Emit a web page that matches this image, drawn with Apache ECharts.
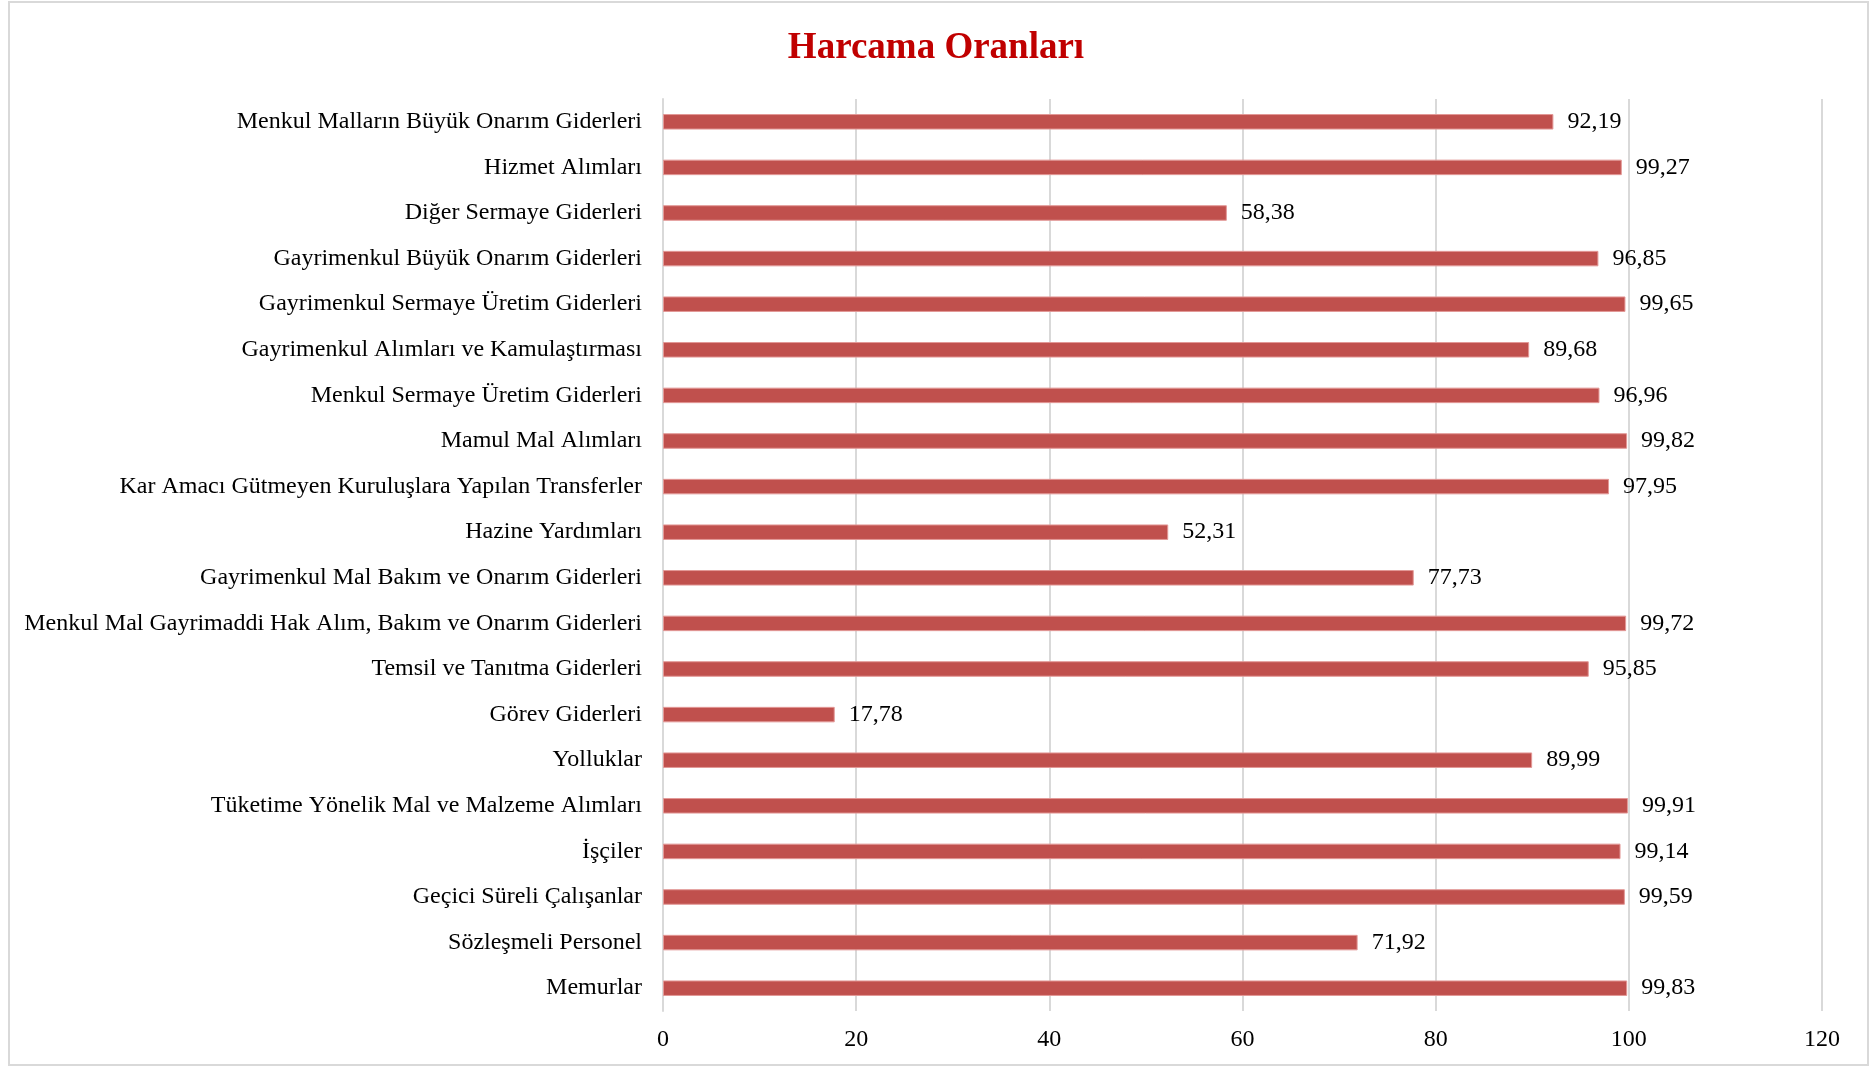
<!DOCTYPE html>
<html>
<head>
<meta charset="utf-8">
<script src="https://cdn.jsdelivr.net/npm/echarts@6/dist/echarts.min.js"></script>
<style>
  html, body { margin: 0; padding: 0; background: #fff; }
  #chart { width: 1872px; height: 1068px; }
</style>
</head>
<body>
<div id="chart"></div>
<script>
// categories, top to bottom as in the picture
const categories = [
  'Menkul Malların Büyük Onarım Giderleri',
  'Hizmet Alımları',
  'Diğer Sermaye Giderleri',
  'Gayrimenkul Büyük Onarım Giderleri',
  'Gayrimenkul Sermaye Üretim Giderleri',
  'Gayrimenkul Alımları ve Kamulaştırması',
  'Menkul Sermaye Üretim Giderleri',
  'Mamul Mal Alımları',
  'Kar Amacı Gütmeyen Kuruluşlara Yapılan Transferler',
  'Hazine Yardımları',
  'Gayrimenkul Mal Bakım ve Onarım Giderleri',
  'Menkul Mal Gayrimaddi Hak Alım, Bakım ve Onarım Giderleri',
  'Temsil ve Tanıtma Giderleri',
  'Görev Giderleri',
  'Yolluklar',
  'Tüketime Yönelik Mal ve Malzeme Alımları',
  'İşçiler',
  'Geçici Süreli Çalışanlar',
  'Sözleşmeli Personel',
  'Memurlar'
];

const rates = [
  92.19, 99.27, 58.38, 96.85, 99.65, 89.68, 96.96, 99.82, 97.95, 52.31,
  77.73, 99.72, 95.85, 17.78, 89.99, 99.91, 99.14, 99.59, 71.92, 99.83
];

const axisTicks = [0, 20, 40, 60, 80, 100, 120];

const serif = '"Liberation Serif", "DejaVu Serif", serif';

const chart = echarts.init(document.getElementById('chart'));

const option = {
  backgroundColor: '#fff',
  animation: false,
  title: {
    text: 'Harcama Oranları',
    left: 'center',
    top: 25,
    textStyle: {
      fontFamily: serif,
      fontWeight: 'bold',
      fontSize: 37,
      color: '#C00000'
    }
  },
  graphic: [{
    type: 'rect',
    shape: { x: 9, y: 2, width: 1859, height: 1063 },
    style: { fill: 'none', stroke: '#d9d9d9', lineWidth: 2 },
    silent: true
  }],
  grid: {
    left: 663,
    right: 50,
    top: 99,
    bottom: 57,
    containLabel: false
  },
  xAxis: {
    type: 'value',
    min: axisTicks[0],
    max: axisTicks[axisTicks.length - 1],
    interval: 20,
    axisLine: { show: false },
    axisTick: { show: false },
    splitLine: { show: true, lineStyle: { color: '#d9d9d9', width: 2 } },
    axisLabel: {
      margin: 17,
      fontFamily: serif,
      fontSize: 24,
      color: '#000'
    }
  },
  yAxis: {
    type: 'category',
    data: categories,
    inverse: true,
    axisLine: { show: true, lineStyle: { color: '#d9d9d9', width: 2 } },
    axisTick: { show: false },
    axisLabel: {
      margin: 21,
      fontFamily: serif,
      fontSize: 24,
      color: '#000'
    }
  },
  series: [{
    type: 'bar',
    data: rates,
    barWidth: '34%',
    itemStyle: {
      color: '#C0504D',
      borderColor: '#e39896',
      borderWidth: 1
    },
    label: {
      show: true,
      position: 'right',
      distance: 14,
      fontFamily: serif,
      fontSize: 24,
      color: '#000',
      formatter: p => p.value.toFixed(2).replace('.', ',')
    }
  }]
};

chart.setOption(option);
</script>
</body>
</html>
